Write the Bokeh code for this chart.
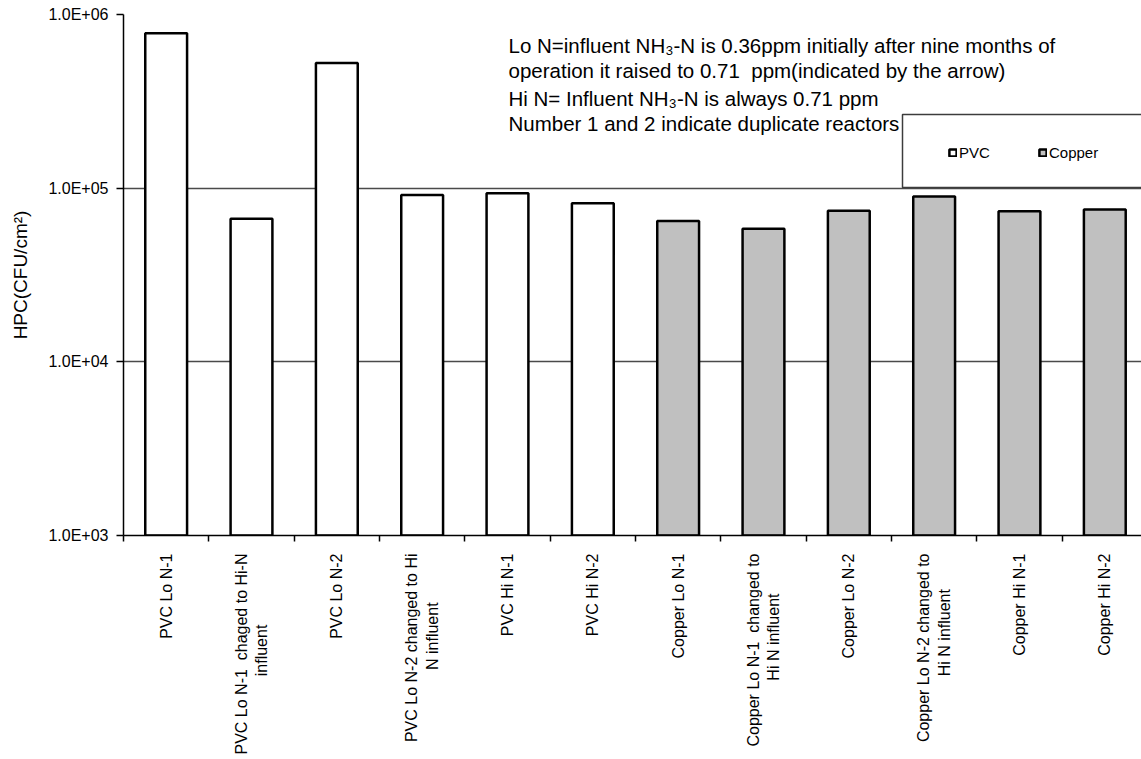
import math

from bokeh.plotting import figure
from bokeh.models import (Range1d, LinearAxis, FixedTicker, CustomJSTickFormatter,
                          ColumnDataSource, Legend, LegendItem, Label, BoxAnnotation)
from bokeh.embed import file_html
from bokeh.resources import INLINE

NB = "\u00a0"

# Reactor categories (x axis), in plotting order; wrapped lines are centred
# under the first line with non-breaking padding
categories = [
    "PVC Lo N-1",
    "PVC Lo N-1" + NB + NB + "chaged to Hi-N\ninfluent" + NB * 16,
    "PVC Lo N-2",
    "PVC Lo N-2 changed to Hi\nN influent" + NB * 11,
    "PVC Hi N-1",
    "PVC Hi N-2",
    "Copper Lo N-1",
    "Copper Lo N-1" + NB + NB + "changed to\nHi N influent" + NB * 9,
    "Copper Lo N-2",
    "Copper Lo N-2 changed to\nHi N influent" + NB * 8,
    "Copper Hi N-1",
    "Copper Hi N-2",
]
materials = ["PVC"] * 6 + ["Copper"] * 6

# Heterotrophic plate counts, CFU/cm2
hpc = [780000, 66700, 525000, 91200, 93600, 82000,
       64600, 58400, 74100, 89600, 73700, 75400]

y_ticks = [1e3, 1e4, 1e5, 1e6]
y_tick_labels = ["1.0E+03", "1.0E+04", "1.0E+05", "1.0E+06"]

notes = [
    "Lo N=influent NH\u2083-N is 0.36ppm initially after nine months of",
    "operation it raised to 0.71" + NB + NB + "ppm(indicated by the arrow)",
    "Hi N= Influent NH\u2083-N is always 0.71 ppm",
    "Number 1 and 2 indicate duplicate reactors",
]

series = ["PVC", "Copper"]
series_fill = {"PVC": "#ffffff", "Copper": "#c0c0c0"}

FONT = "Liberation Sans"

centers = [i + 0.5 for i in range(len(categories))]
edges = list(range(len(categories) + 1))

p = figure(frame_width=1018, frame_height=521,
           min_border_left=123, min_border_right=0, min_border_top=14, min_border_bottom=0,
           x_range=Range1d(0, 11.93), y_range=Range1d(y_ticks[0], y_ticks[-1]),
           y_axis_type="log", x_axis_location=None,
           output_backend="svg", toolbar_location=None)
p.outline_line_color = None
p.background_fill_color = "white"
p.border_fill_color = "white"

# y axis with scientific labels
yax = p.yaxis[0]
yax.ticker = FixedTicker(ticks=y_ticks)
yax.formatter = CustomJSTickFormatter(
    args=dict(tick_values=y_ticks, tick_labels=y_tick_labels),
    code="""
    for (let i = 0; i < tick_values.length; i++) {
        if (Math.abs(Math.log10(tick) - Math.log10(tick_values[i])) < 1e-6) return tick_labels[i];
    }
    return "";
    """)
yax.major_tick_in = 0
yax.major_tick_out = 7
yax.minor_tick_line_color = None
yax.axis_line_color = "black"
yax.axis_line_width = 1.5
yax.major_tick_line_width = 1.5
yax.major_label_text_font = FONT
yax.major_label_text_font_size = "16px"
yax.major_label_text_color = "black"
yax.major_label_standoff = 8
yax.axis_label = "HPC(CFU/cm\u00b2)"
yax.axis_label_text_font = FONT
yax.axis_label_text_font_size = "19px"
yax.axis_label_text_font_style = "normal"
yax.axis_label_text_color = "black"
yax.axis_label_standoff = 14

p.xgrid.visible = False
p.ygrid.grid_line_color = "#4a4a4a"
p.ygrid.grid_line_width = 1.3
p.ygrid.minor_grid_line_color = None

# x axis: tick marks between categories, then rotated category labels
tick_axis = LinearAxis(ticker=FixedTicker(ticks=edges),
                       major_label_text_font_size="0px", major_label_text_alpha=0,
                       major_label_standoff=0,
                       major_tick_in=0, major_tick_out=6, major_tick_line_width=1.5,
                       minor_tick_line_color=None,
                       axis_line_color="black", axis_line_width=1.5)
p.add_layout(tick_axis, "below")

label_axis = LinearAxis(ticker=FixedTicker(ticks=centers),
                        formatter=CustomJSTickFormatter(args=dict(cat_labels=categories),
                                                        code="return cat_labels[Math.floor(tick)];"),
                        major_label_orientation=math.pi / 2,
                        major_label_text_font=FONT, major_label_text_font_size="16px",
                        major_label_text_color="black",
                        major_label_standoff=6,
                        axis_line_color=None, major_tick_line_color=None,
                        minor_tick_line_color=None)
p.add_layout(label_axis, "below")

# bars
renderers = {}
for mat in series:
    idx = [i for i, m in enumerate(materials) if m == mat]
    src = ColumnDataSource(dict(x=[centers[i] for i in idx], top=[hpc[i] for i in idx]))
    renderers[mat] = p.vbar(x="x", top="top", bottom=y_ticks[0], width=0.49, source=src,
                            fill_color=series_fill[mat], line_color="black", line_width=2.5)

# legend frame and legend
p.add_layout(BoxAnnotation(left=779, right=1040, bottom=348, top=421,
                           left_units="screen", right_units="screen",
                           bottom_units="screen", top_units="screen",
                           fill_color="white", fill_alpha=1.0,
                           line_color="#3c3c3c", line_alpha=1.0, line_width=1.5,
                           level="annotation"))

legend = Legend(items=[LegendItem(label=m, renderers=[renderers[m]]) for m in series],
                orientation="horizontal", location=(825, 374),
                padding=0, margin=0, spacing=0,
                glyph_width=9, glyph_height=9, label_standoff=2,
                label_width=79, label_height=9,
                label_text_font=FONT, label_text_font_size="15px",
                label_text_color="black",
                border_line_color=None, background_fill_alpha=0)
p.add_layout(legend)

# explanatory notes
baselines = [45, 70, 98, 123]
for txt, b in zip(notes, baselines):
    p.add_layout(Label(x=385, y=535 - b, x_units="screen", y_units="screen",
                       text=txt, text_font=FONT, text_font_size="20.5px",
                       text_color="black", text_baseline="alphabetic"))

open("out.html", "w").write(file_html(p, INLINE))
